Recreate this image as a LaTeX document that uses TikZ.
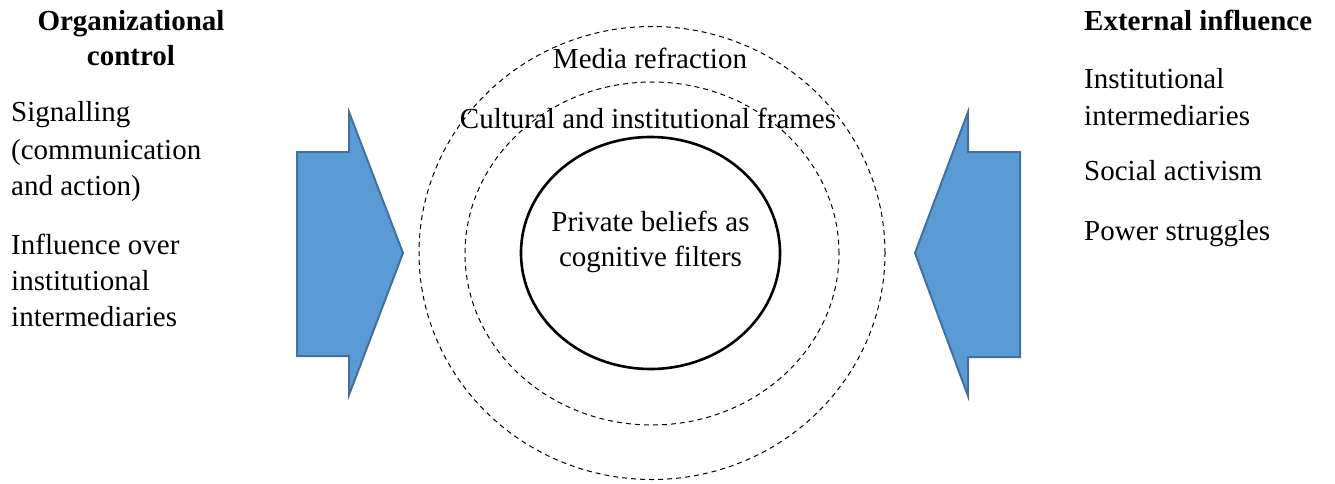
\documentclass[tikz,border=0pt]{standalone}
\usepackage{fontspec}
\setmainfont{Liberation Serif}
\usetikzlibrary{shapes.geometric}
\definecolor{arrowfill}{HTML}{5B9BD5}
\definecolor{arrowline}{HTML}{41719C}
\tikzset{
  txt/.style={inner sep=0pt, font=\fontsize{29}{36.5}\selectfont},
  bigarrow/.style={fill=arrowfill, draw=arrowline, line width=2pt, line join=miter},
  ring/.style={ellipse, draw, dash pattern=on 5pt off 4pt, line width=1pt, inner sep=0pt},
  core/.style={ellipse, draw, line width=2.6pt, inner sep=0pt}
}
\begin{document}
\begin{tikzpicture}[x=1pt,y=-1pt]
\useasboundingbox (0,0) rectangle (1335,484);
% circles
\node[ring, minimum width=466pt, minimum height=453pt] (outer) at (652,253) {};
\node[ring, minimum width=374pt, minimum height=343pt] (middle) at (652,253.5) {};
\node[core, minimum width=259pt, minimum height=232pt] (inner) at (650.5,253) {};
% arrows
\draw[bigarrow] (297,152) coordinate (la1) -- (349,152) -- (349,112) -- (403,253) coordinate (ltip) -- (349,395) -- (349,356) -- (297,356) -- cycle;
\draw[bigarrow] (1020,152) coordinate (ra1) -- (968,152) -- (968,112) -- (915,253) coordinate (rtip) -- (968,396) -- (968,357) -- (1020,357) -- cycle;
% central texts
\node[txt, anchor=base] (media) at (650,69) {Media refraction};
\node[txt, anchor=base] (cult) at (648,128.5) {Cultural and institutional frames};
\node[txt, anchor=base] (priv1) at (650.5,231.7) {Private beliefs as};
\node[txt, anchor=base] (priv2) at (650.5,266.7) {cognitive filters};
% left texts
\node[txt, anchor=base] (org1) at (131,31) {\bfseries Organizational};
\node[txt, anchor=base] (org2) at (131,65.7) {\bfseries control};
\node[txt, anchor=base west] (l1) at (11,121.7) {Signalling};
\node[txt, anchor=base west] (l2) at (11,159) {(communication};
\node[txt, anchor=base west] (l3) at (11,195.5) {and action)};
\node[txt, anchor=base west] (l4) at (11,254.5) {Influence over};
\node[txt, anchor=base west] (l5) at (11,290.5) {institutional};
\node[txt, anchor=base west] (l6) at (11,326.5) {intermediaries};
% right texts
\node[txt, anchor=base west] (ext) at (1084,30.7) {\bfseries External influence};
\node[txt, anchor=base west] (r1) at (1084,88.3) {Institutional};
\node[txt, anchor=base west] (r2) at (1084,125) {intermediaries};
\node[txt, anchor=base west] (r3) at (1084,180.7) {Social activism};
\node[txt, anchor=base west] (r4) at (1084,240) {Power struggles};
\end{tikzpicture}
\end{document}
